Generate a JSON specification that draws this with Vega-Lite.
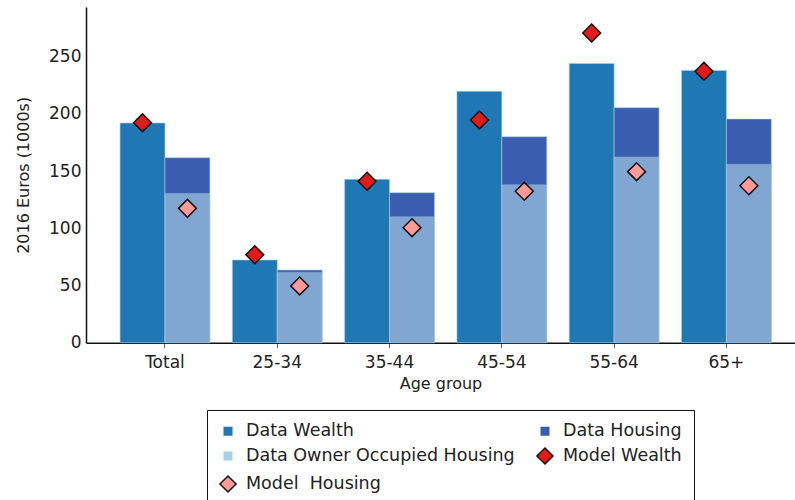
{
  "$schema": "https://vega.github.io/schema/vega-lite/v6.json",
  "width": 709,
  "height": 335.7,
  "autosize": "none",
  "padding": {"left": 86, "top": 7, "right": 0, "bottom": 157.3},
  "background": "white",
  "config": {
    "view": {"stroke": null},
    "font": "DejaVu Sans",
    "axis": {"labelFont": "DejaVu Sans", "titleFont": "DejaVu Sans", "labelFontSize": 17, "titleFontSize": 16, "titleFontWeight": "normal", "labelColor": "#222", "titleColor": "#222", "grid": false},
    "legend": {"labelFont": "DejaVu Sans", "labelFontSize": 17.5, "labelColor": "#222"}
  },
  "data": {
    "values": [
      {"age": "Total", "measure": "Data Wealth", "value": 192},
      {"age": "Total", "measure": "Data Housing", "value": 161.7},
      {"age": "Total", "measure": "Data Owner Occupied Housing", "value": 130.5},
      {"age": "Total", "measure": "Model Wealth", "value": 192.3},
      {"age": "Total", "measure": "Model  Housing", "value": 117.4},
      {"age": "25-34", "measure": "Data Wealth", "value": 72.3},
      {"age": "25-34", "measure": "Data Housing", "value": 63.5},
      {"age": "25-34", "measure": "Data Owner Occupied Housing", "value": 61.5},
      {"age": "25-34", "measure": "Model Wealth", "value": 76.9},
      {"age": "25-34", "measure": "Model  Housing", "value": 49.6},
      {"age": "35-44", "measure": "Data Wealth", "value": 142.8},
      {"age": "35-44", "measure": "Data Housing", "value": 131.1},
      {"age": "35-44", "measure": "Data Owner Occupied Housing", "value": 110.1},
      {"age": "35-44", "measure": "Model Wealth", "value": 141.1},
      {"age": "35-44", "measure": "Model  Housing", "value": 100.5},
      {"age": "45-54", "measure": "Data Wealth", "value": 219.7},
      {"age": "45-54", "measure": "Data Housing", "value": 180},
      {"age": "45-54", "measure": "Data Owner Occupied Housing", "value": 138},
      {"age": "45-54", "measure": "Model Wealth", "value": 194.7},
      {"age": "45-54", "measure": "Model  Housing", "value": 132.3},
      {"age": "55-64", "measure": "Data Wealth", "value": 244},
      {"age": "55-64", "measure": "Data Housing", "value": 205.4},
      {"age": "55-64", "measure": "Data Owner Occupied Housing", "value": 162.3},
      {"age": "55-64", "measure": "Model Wealth", "value": 270.7},
      {"age": "55-64", "measure": "Model  Housing", "value": 149.5},
      {"age": "65+", "measure": "Data Wealth", "value": 238},
      {"age": "65+", "measure": "Data Housing", "value": 195.5},
      {"age": "65+", "measure": "Data Owner Occupied Housing", "value": 155.9},
      {"age": "65+", "measure": "Model Wealth", "value": 237.2},
      {"age": "65+", "measure": "Model  Housing", "value": 137.2}
    ]
  },
  "encoding": {
    "x": {
      "field": "age", "type": "nominal", "sort": null, "title": "Age group",
      "scale": {"paddingInner": 0.2, "paddingOuter": 0.257, "align": 0.59},
      "axis": {"labelAngle": 0, "domainColor": "#111", "domainWidth": 1.5, "tickColor": "#666", "tickSize": 5, "labelPadding": 7, "titlePadding": 5}
    },
    "y": {
      "field": "value", "type": "quantitative", "title": "2016 Euros (1000s)",
      "scale": {"domain": [0, 293.4], "nice": false, "zero": true},
      "axis": {"values": [0, 50, 100, 150, 200, 250], "ticks": false, "labelPadding": 5, "domainColor": "#111", "domainWidth": 1.5, "titlePadding": 17}
    },
    "color": {
      "field": "measure", "type": "nominal", "title": null,
      "scale": {
        "domain": ["Data Wealth", "Data Housing", "Data Owner Occupied Housing", "Model Wealth", "Model  Housing"],
        "range": ["#1f78b4", "#3a5db0", "#a6cee3", "#e31a1c", "#fb9a99"]
      },
      "legend": {
        "orient": "none", "legendX": 121, "legendY": 403,
        "direction": "horizontal", "columns": 2, "columnPadding": 18, "rowPadding": 4,
        "padding": 12, "strokeColor": "#111", "fillColor": "white",
        "labelOffset": 9, "labelLimit": 400, "symbolSize": 260, "symbolStrokeWidth": 1.5,
        "labelExpr": "replace(datum.label, '  ', ' \u00a0')"
      }
    }
  },
  "layer": [
    {
      "transform": [{"filter": "datum.measure === 'Data Wealth'"}],
      "mark": {"type": "bar", "stroke": "#a6cee3", "strokeOpacity": 0.6, "strokeWidth": 1},
      "encoding": {"xOffset": {"datum": "W", "scale": {"domain": ["W", "H"], "paddingInner": 0, "paddingOuter": 0}}}
    },
    {
      "transform": [{"filter": "datum.measure === 'Data Housing'"}],
      "mark": {"type": "bar", "stroke": "#a6cee3", "strokeOpacity": 0.6, "strokeWidth": 1},
      "encoding": {"xOffset": {"datum": "H", "scale": {"domain": ["W", "H"], "paddingInner": 0, "paddingOuter": 0}}}
    },
    {
      "transform": [{"filter": "datum.measure === 'Data Owner Occupied Housing'"}],
      "mark": {"type": "bar", "opacity": 0.65, "stroke": "#a6cee3", "strokeOpacity": 0.6, "strokeWidth": 1},
      "encoding": {"xOffset": {"datum": "H", "scale": {"domain": ["W", "H"], "paddingInner": 0, "paddingOuter": 0}}}
    },
    {
      "transform": [{"filter": "datum.measure === 'Model Wealth'"}],
      "mark": {"type": "point", "filled": true, "size": 320, "strokeWidth": 1.5, "opacity": 1},
      "encoding": {
        "xOffset": {"datum": "W", "scale": {"domain": ["W", "H"], "paddingInner": 0, "paddingOuter": 0}},
        "shape": {
          "field": "measure", "type": "nominal", "title": null,
          "scale": {
            "domain": ["Data Wealth", "Data Housing", "Data Owner Occupied Housing", "Model Wealth", "Model  Housing"],
            "range": ["M-0.56,-0.56H0.56V0.56H-0.56Z", "M-0.56,-0.56H0.56V0.56H-0.56Z", "M-0.56,-0.56H0.56V0.56H-0.56Z", "M-1,0L0,-1L1,0L0,1Z", "M-1,0L0,-1L1,0L0,1Z"]
          }
        },
        "stroke": {
          "field": "measure", "type": "nominal", "title": null,
          "scale": {
            "domain": ["Data Wealth", "Data Housing", "Data Owner Occupied Housing", "Model Wealth", "Model  Housing"],
            "range": ["transparent", "transparent", "transparent", "#111111", "#111111"]
          }
        }
      }
    },
    {
      "transform": [{"filter": "datum.measure === 'Model  Housing'"}],
      "mark": {"type": "point", "filled": true, "size": 320, "strokeWidth": 1.5, "opacity": 1},
      "encoding": {
        "xOffset": {"datum": "H", "scale": {"domain": ["W", "H"], "paddingInner": 0, "paddingOuter": 0}},
        "shape": {
          "field": "measure", "type": "nominal", "title": null,
          "scale": {
            "domain": ["Data Wealth", "Data Housing", "Data Owner Occupied Housing", "Model Wealth", "Model  Housing"],
            "range": ["M-0.56,-0.56H0.56V0.56H-0.56Z", "M-0.56,-0.56H0.56V0.56H-0.56Z", "M-0.56,-0.56H0.56V0.56H-0.56Z", "M-1,0L0,-1L1,0L0,1Z", "M-1,0L0,-1L1,0L0,1Z"]
          }
        },
        "stroke": {
          "field": "measure", "type": "nominal", "title": null,
          "scale": {
            "domain": ["Data Wealth", "Data Housing", "Data Owner Occupied Housing", "Model Wealth", "Model  Housing"],
            "range": ["transparent", "transparent", "transparent", "#111111", "#111111"]
          }
        }
      }
    }
  ]
}
